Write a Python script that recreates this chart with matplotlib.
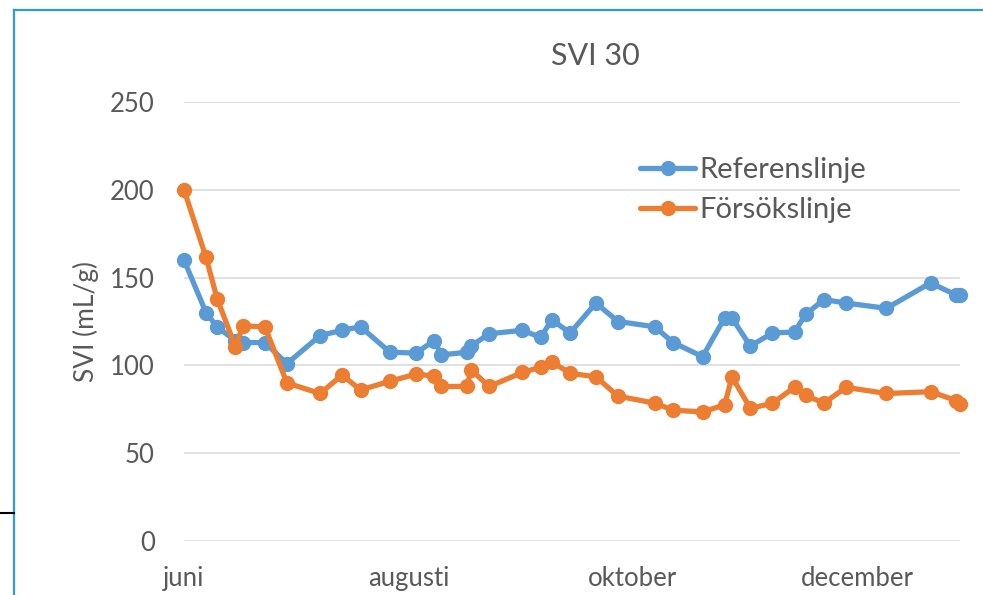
import matplotlib
matplotlib.use('Agg')
import matplotlib.pyplot as plt
import matplotlib.dates as mdates
from matplotlib.lines import Line2D
import numpy as np

# provdatum (samma för båda linjerna)
dates = ['2016-06-01', '2016-06-07', '2016-06-10', '2016-06-15', '2016-06-17',
         '2016-06-23', '2016-06-29', '2016-07-08', '2016-07-14', '2016-07-19',
         '2016-07-27', '2016-08-03', '2016-08-08', '2016-08-10', '2016-08-17',
         '2016-08-18', '2016-08-23', '2016-09-01', '2016-09-06', '2016-09-09',
         '2016-09-14', '2016-09-21', '2016-09-27', '2016-10-07', '2016-10-12',
         '2016-10-20', '2016-10-26', '2016-10-28', '2016-11-02', '2016-11-08',
         '2016-11-14', '2016-11-17', '2016-11-22', '2016-11-28', '2016-12-09',
         '2016-12-21', '2016-12-28', '2016-12-29']

referens = [160, 130, 122, 114, 113, 113, 101, 117, 120, 122,
            107.5, 107, 114, 106, 107.5, 111, 118, 120, 116, 126,
            118.5, 135.5, 125, 122, 113, 105, 127, 127, 111, 118.5,
            119, 129, 137.5, 135.5, 132.5, 147, 140, 140]

forsok = [200, 161.5, 138, 110.5, 122.5, 122, 90, 84, 94.5, 86,
          91, 95, 94, 88, 88, 97.5, 88, 96, 99, 102,
          95.5, 93.5, 82.5, 78.5, 74.5, 73.5, 77.5, 93.5, 75.5, 78.5,
          87.5, 83, 78.5, 87.5, 84, 85, 80, 78]

tick_dates = ['2016-06-01', '2016-08-01', '2016-10-01', '2016-12-01']
tick_labels = ['juni', 'augusti', 'oktober', 'december']

plt.rcParams['font.family'] = ['Lato', 'DejaVu Sans']
text_col = '#595959'

x = np.array(dates, dtype='datetime64[D]')
xt = np.array(tick_dates, dtype='datetime64[D]')

fig = plt.figure(figsize=(9.83, 5.95), dpi=100)
ax = fig.add_axes([184 / 983, (595 - 541) / 595, (960 - 184) / 983, (541 - 102) / 595])

ax.plot(x, referens, color='#5B9BD5', lw=3.8, marker='o', ms=10,
        label='Referenslinje', solid_capstyle='round', clip_on=False)
ax.plot(x, forsok, color='#ED7D31', lw=3.8, marker='o', ms=10,
        label='Försökslinje', solid_capstyle='round', clip_on=False)

ax.set_xlim(x[0], x[-1])
ax.set_ylim(0, 250)
ax.set_yticks(range(0, 251, 50))
ax.set_xticks(xt)
ax.set_xticklabels(tick_labels)
ax.grid(axis='y', color='#D9D9D9', lw=1.1)
ax.set_axisbelow(True)
for s in ax.spines.values():
    s.set_visible(False)
ax.tick_params(axis='both', length=0, labelsize=18.5, colors=text_col)
ax.tick_params(axis='y', pad=21)
ax.tick_params(axis='x', pad=18)

ax.set_ylabel('SVI (mL/g)', fontsize=19, color=text_col, labelpad=8)
fig.text(595 / 983, 1 - 56 / 595, 'SVI 30', fontsize=22, color=text_col,
         ha='center', va='center')

leg = ax.legend(loc='center left', bbox_to_anchor=(640 / 983, 1 - 190 / 595),
                bbox_transform=fig.transFigure, frameon=False, fontsize=21,
                handlelength=1.9, handletextpad=0.15, labelspacing=0.5,
                borderpad=0, borderaxespad=0)
for t in leg.get_texts():
    t.set_color(text_col)

# diagramram och markerad kant
fc = '#2E9BD6'
fig.add_artist(Line2D([14 / 983, 14 / 983], [0, 1 - 10 / 595], color=fc, lw=1.6))
fig.add_artist(Line2D([14 / 983, 1], [1 - 10 / 595, 1 - 10 / 595], color=fc, lw=1.6))
fig.add_artist(Line2D([0, 14 / 983], [1 - 513 / 595, 1 - 513 / 595], color='black', lw=1.5))

fig.savefig('out.png', dpi=100)
